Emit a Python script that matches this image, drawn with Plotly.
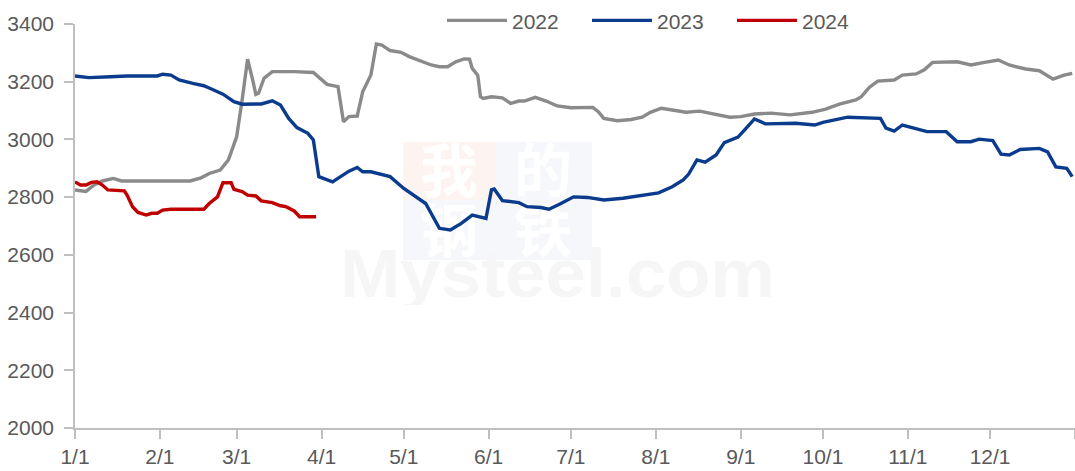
import base64
import plotly.graph_objects as go

# ---- data (month-day, value) ----
dates_2022 = ["01-01","01-05","01-08","01-11","01-15","01-18","02-12","02-16","02-19","02-23","02-26",
              "03-01","03-03","03-05","03-07","03-08","03-09","03-11","03-14","03-22","03-29","03-31",
              "04-03","04-07","04-09","04-11","04-14","04-16","04-19","04-21","04-23","04-26","04-30",
              "05-03","05-07","05-11","05-14","05-17","05-20","05-23","05-25","05-26","05-28","05-29","05-30",
              "06-02","06-06","06-09","06-12","06-14","06-18","06-22","06-26",
              "07-01","07-09","07-11","07-13","07-18","07-23","07-27","07-30",
              "08-03","08-07","08-12","08-17","08-22","08-28",
              "09-01","09-06","09-12","09-19","09-27",
              "10-02","10-07","10-13","10-15","10-18","10-21","10-27","10-30",
              "11-04","11-07","11-10","11-19","11-24","11-29",
              "12-04","12-08","12-14","12-19","12-24","12-28","12-31"]
values_2022 = [2825,2820,2842,2856,2865,2856,2856,2867,2882,2894,2929,
               3009,3137,3278,3200,3156,3160,3212,3235,3235,3232,3217,
               3191,3183,3061,3079,3081,3165,3223,3331,3327,3308,3302,
               3287,3273,3258,3252,3252,3269,3279,3278,3246,3223,3148,3142,
               3148,3144,3125,3133,3133,3146,3133,3116,
               3110,3111,3096,3073,3065,3069,3077,3094,
               3108,3102,3094,3098,3088,3077,
               3079,3088,3091,3085,3094,
               3105,3122,3137,3148,3181,3202,3206,3223,
               3227,3241,3267,3269,3258,3267,
               3275,3258,3244,3238,3209,3223,3229]

dates_2023 = ["01-01","01-06","01-14","01-20","01-31","02-02","02-05","02-08","02-13","02-17","02-20","02-24","02-28",
              "03-03","03-10","03-14","03-17","03-20","03-23","03-27","03-29","03-31",
              "04-05","04-08","04-11","04-14","04-16","04-19","04-26",
              "05-01","05-06","05-09","05-14","05-18","05-22","05-26","05-31",
              "06-02","06-03","06-06","06-12","06-15","06-20","06-23","06-27",
              "07-02","07-07","07-13","07-20","07-26",
              "08-02","08-07","08-11","08-13","08-16","08-19","08-23","08-26","08-31",
              "09-03","09-06","09-10","09-15","09-21","09-28",
              "10-01","10-10","10-18","10-22","10-24","10-27","10-30",
              "11-03","11-08","11-15","11-19","11-24","11-27",
              "12-02","12-05","12-08","12-12","12-19","12-22","12-25","12-29","12-31"]
values_2023 = [3220,3214,3217,3220,3220,3226,3223,3206,3194,3186,3174,3157,3131,
               3122,3123,3134,3119,3073,3041,3021,2998,2871,
               2853,2871,2890,2903,2888,2888,2871,
               2830,2799,2778,2692,2686,2709,2738,2726,
               2825,2828,2788,2781,2767,2764,2758,2776,
               2801,2799,2790,2796,2804,
               2815,2836,2860,2880,2929,2921,2946,2989,3008,
               3039,3071,3054,3054,3056,3050,
               3059,3077,3076,3073,3039,3029,3050,
               3041,3027,3027,2992,2992,3001,
               2996,2949,2946,2965,2969,2957,2905,2900,2871]

dates_2024 = ["01-01","01-03","01-05","01-07","01-09","01-11","01-13","01-19","01-20","01-22","01-24",
              "01-27","01-29","01-31","02-02","02-05","02-17","02-19","02-22","02-24","02-27","02-28",
              "03-03","03-05","03-08","03-10","03-14","03-17","03-19","03-22","03-24","03-30"]
values_2024 = [2853,2842,2842,2851,2853,2842,2825,2822,2807,2767,2747,
               2738,2744,2744,2755,2758,2758,2778,2801,2850,2850,2827,
               2819,2807,2804,2787,2781,2770,2767,2752,2732,2732]

tick_labels = ["1/1","2/1","3/1","4/1","5/1","6/1","7/1","8/1","9/1","10/1","11/1","12/1",""]
tick_dates = ["01-01","02-01","03-01","04-01","05-01","06-01","07-01","08-01","09-01","10-01","11-01","12-01"]

BASE = "2023-"
series = [
    ("2022", dates_2022, values_2022, "#8a8a8a"),
    ("2023", dates_2023, values_2023, "#0b3b8c"),
    ("2024", dates_2024, values_2024, "#c00000"),
]

fig = go.Figure()
for name, d, v, c in series:
    fig.add_trace(go.Scatter(
        x=[BASE + s for s in d], y=v, name=name, mode="lines",
        line=dict(color=c, width=3.4),
    ))

# ---- faint watermark (drawn beneath the lines) ----
wm_svg = (
    "<svg xmlns='http://www.w3.org/2000/svg' width='445' height='165' viewBox='0 0 445 165'>"
    "<rect x='68' y='2' width='92' height='58' fill='#fdf3f1'/>"
    "<rect x='160' y='2' width='97' height='58' fill='#f5f7fb'/>"
    "<rect x='68' y='60' width='92' height='60' fill='#f6f7fb'/>"
    "<rect x='160' y='60' width='97' height='60' fill='#f6f7fb'/>"
    "<g font-family='Noto Sans CJK SC' font-weight='bold' font-size='58' fill='#ffffff' text-anchor='middle'>"
    "<text x='114' y='52'>我</text><text x='208' y='52'>的</text>"
    "<text x='114' y='112'>钢</text><text x='208' y='112'>铁</text></g>"
    "<text x='5' y='157' font-family='Liberation Sans, Arial' font-weight='bold' font-size='68' "
    "fill='#f6f6f6' textLength='435' lengthAdjust='spacingAndGlyphs'>Mysteel.com</text>"
    "</svg>"
)
wm_src = "data:image/svg+xml;base64," + base64.b64encode(wm_svg.encode("utf-8")).decode("ascii")
fig.add_layout_image(
    source=wm_src, xref="paper", yref="paper",
    x=(335 - 75) / 1000, y=(428 - 140) / 404, sizex=445 / 1000, sizey=165 / 404,
    xanchor="left", yanchor="top", sizing="stretch", layer="below", opacity=1,
)

font_fam = "Liberation Sans, Arial, sans-serif"
fig.update_layout(
    width=1075, height=471,
    margin=dict(l=75, r=0, t=24, b=43, autoexpand=False),
    paper_bgcolor="white", plot_bgcolor="rgba(0,0,0,0)",
    font=dict(family=font_fam, size=21, color="#595959"),
    showlegend=True,
    legend=dict(orientation="h", x=0.367, xanchor="left", y=1.008, yanchor="middle",
                font=dict(size=21, color="#595959"), itemwidth=60,
                entrywidth=70, entrywidthmode="pixels",
                bgcolor="rgba(0,0,0,0)", traceorder="normal"),
    xaxis=dict(
        type="date",
        range=["2023-01-01", "2024-01-01"],
        tickvals=[BASE + s for s in tick_dates] + ["2024-01-01"],
        ticktext=tick_labels,
        showgrid=False, zeroline=False,
        showline=True, linecolor="#bfbfbf", linewidth=1.5,
        ticks="outside", ticklen=9, tickcolor="#bfbfbf", tickwidth=1.5,
        tickfont=dict(size=21, color="#595959"),
        automargin=False,
    ),
    yaxis=dict(
        range=[2000, 3400], dtick=200,
        showgrid=False, zeroline=False,
        showline=True, linecolor="#bfbfbf", linewidth=1.5,
        ticks="outside", ticklen=9, tickcolor="#bfbfbf", tickwidth=1.5,
        tickfont=dict(size=21, color="#595959"),
        ticklabelstandoff=6,
        automargin=False,
    ),
)

fig.write_html(
    "out.html",
    config={"displayModeBar": False},
    post_script="document.body.style.margin='0';document.body.style.overflow='hidden';",
)
